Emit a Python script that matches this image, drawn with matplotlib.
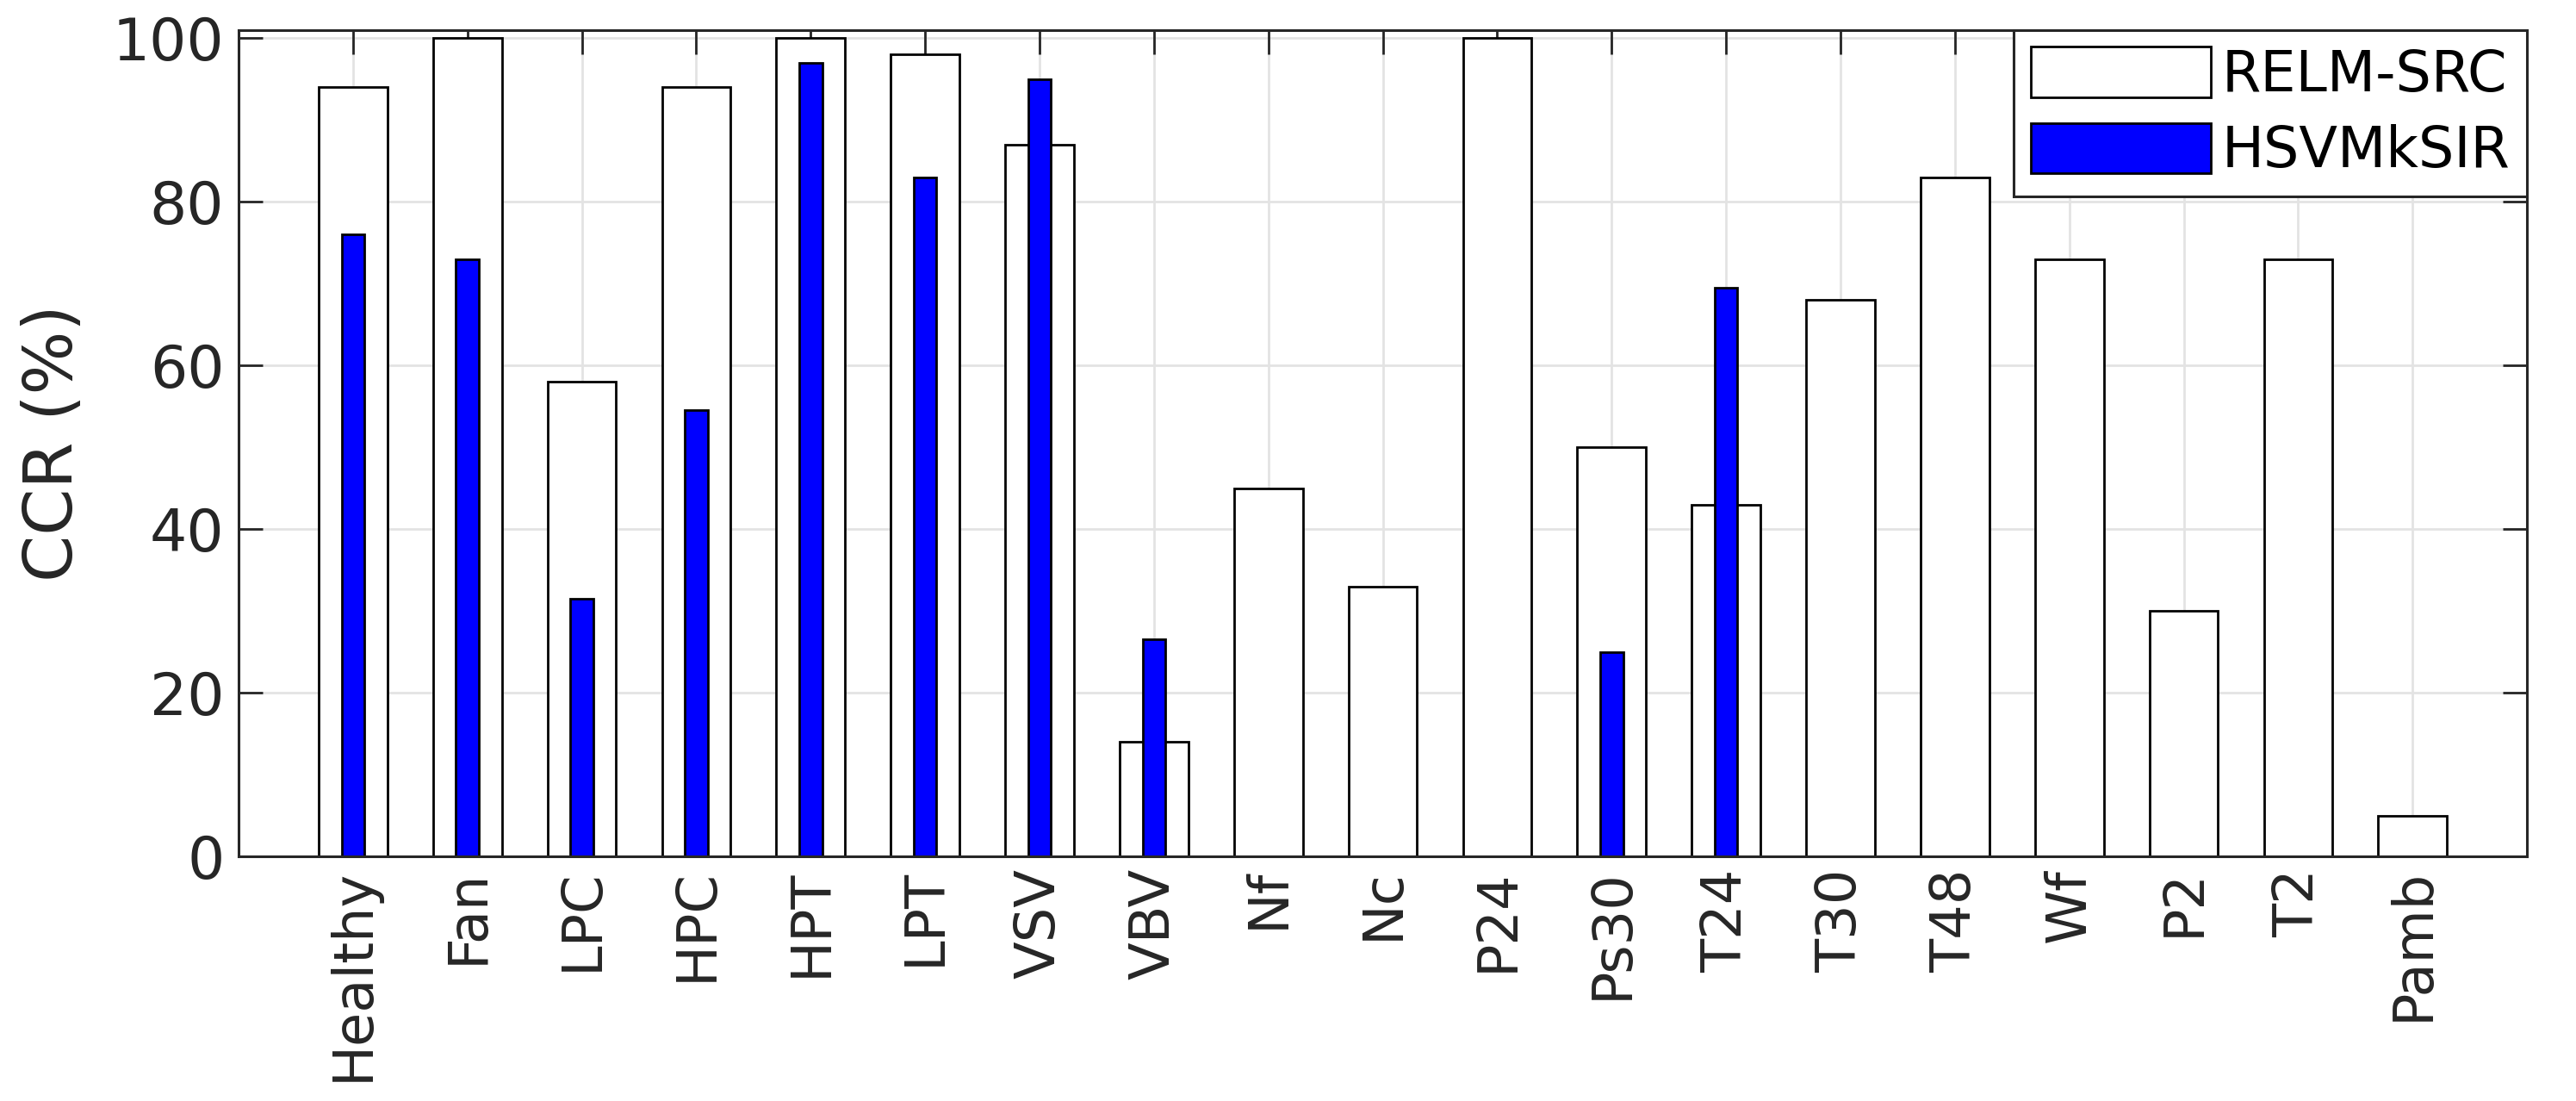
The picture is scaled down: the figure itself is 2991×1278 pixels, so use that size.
import matplotlib.pyplot as plt
import numpy as np

# categories and CCR values (%)
labels = ['Healthy', 'Fan', 'LPC', 'HPC', 'HPT', 'LPT', 'VSV', 'VBV', 'Nf', 'Nc',
          'P24', 'Ps30', 'T24', 'T30', 'T48', 'Wf', 'P2', 'T2', 'Pamb']
relm_src = [94, 100, 58, 94, 100, 98, 87, 14, 45, 33,
            100, 50, 43, 68, 83, 73, 30, 73, 5]
hsvmksir = [76, 73, 31.5, 54.5, 97, 83, 95, 26.5, 0, 0,
            0, 25, 69.5, 0, 0, 0, 0, 0, 0]

dark = '#262626'
x = np.arange(1, len(labels) + 1)

fig = plt.figure(figsize=(29.91, 12.78), dpi=100)
ax = fig.add_axes([0.0926, 0.222, 0.8884, 0.751])

# bars stay under the tick marks (axis zorder 2.5), grid goes below bars
ax.bar(x, relm_src, width=0.6, color='white', edgecolor='black', linewidth=2, label='RELM-SRC', zorder=2)
ax.bar(x, hsvmksir, width=0.2, color='#0000ff', edgecolor='black', linewidth=2, label='HSVMkSIR', zorder=2.2)

ax.set_xlim(0, 20)
ax.set_ylim(0, 101)
ax.set_xticks(x)
ax.set_xticklabels(labels, rotation=90, fontsize=46, color=dark)
ax.set_yticks(np.arange(0, 101, 20))
ax.tick_params(axis='y', labelsize=49, labelcolor=dark, pad=12)
ax.tick_params(axis='x', pad=10)
ax.tick_params(direction='in', length=20, width=2, color=dark, top=True, right=True)
ax.set_ylabel('CCR (%)', fontsize=56, color=dark, labelpad=22)

# grid drawn by hand so it sits behind the bars
for t in ax.get_xticks():
    ax.axvline(t, color='#e3e3e3', linewidth=2, zorder=0.5)
for t in ax.get_yticks():
    ax.axhline(t, color='#e3e3e3', linewidth=2, zorder=0.5)

for s in ax.spines.values():
    s.set_color(dark)
    s.set_linewidth(2.2)

leg = ax.legend(loc='upper right', fontsize=47, borderaxespad=0, fancybox=False,
                framealpha=1, edgecolor=dark, handlelength=3.2, handleheight=1.0,
                labelspacing=0.35, borderpad=0.3, handletextpad=0.2)
leg.get_frame().set_linewidth(2.2)

fig.savefig('out.png', dpi=100)
